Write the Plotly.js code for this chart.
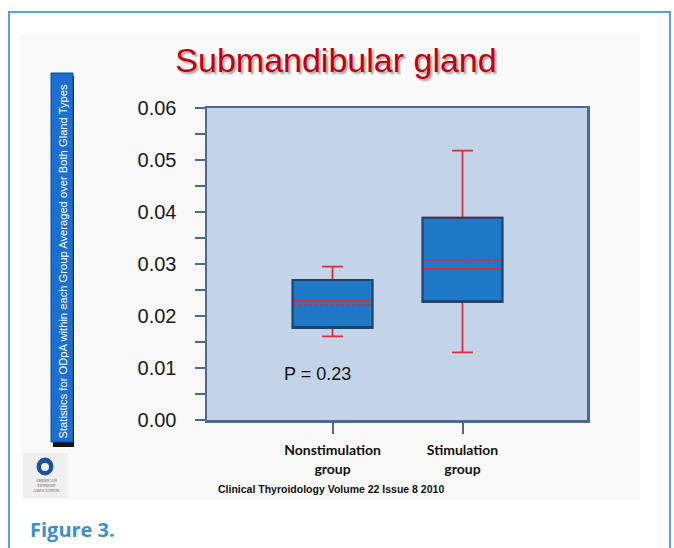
<!DOCTYPE html>
<html>
<head>
<meta charset="utf-8">
<script src="https://cdn.plot.ly/plotly-3.0.1.min.js"></script>
<style>html,body{margin:0;padding:0;background:#fff;}#chart{width:674px;height:548px;}</style>
</head>
<body>
<div id="chart"></div>
<script>
// ---- data ----
const categories = ['Nonstimulation group', 'Stimulation group'];
const tickLabels = ['Nonstimulation<br>group', 'Stimulation<br>group'];
const q1 = [0.0177, 0.0227];
const median = [0.0230, 0.0291];
const q3 = [0.0269, 0.0389];
const mean = [0.0221, 0.0307];
const lowerWhisker = [0.0161, 0.0130];
const upperWhisker = [0.0295, 0.0518];
const yTickVals = [0, 0.01, 0.02, 0.03, 0.04, 0.05, 0.06];
const titleText = 'Submandibular gland';
const yLabelText = 'Statistics for ODpA within each Group Averaged over Both Gland Types';
const pText = 'P = 0.23';
const sourceText = 'Clinical Thyroidology Volume 22 Issue 8 2010';
const figText = 'Figure 3.';

// ---- layout geometry (pixels) ----
const W = 674, H = 548;
const L = 207, R = 587, T = 108, B = 420;
const px = x => (x - L) / (R - L);
const py = y => (B - y) / (B - T);

const axisCol = '#4a6a94';
const red = '#d92a3c';
const plotBg = '#c4d4e8';

const traceMain = {
  type: 'box',
  x: categories,
  q1: q1, median: median, q3: q3, mean: mean,
  lowerfence: lowerWhisker, upperfence: upperWhisker,
  boxmean: true,
  width: 0.615,
  whiskerwidth: 0.26,
  fillcolor: '#1f78c6',
  line: {color: red, width: 1.8},
  hoverinfo: 'skip', showlegend: false
};
const traceOutline = {
  type: 'box',
  x: categories,
  q1: q1, median: q1, q3: q3,
  lowerfence: q1, upperfence: q3,
  width: 0.615,
  whiskerwidth: 0,
  fillcolor: 'rgba(0,0,0,0)',
  line: {color: '#1f426f', width: 2},
  hoverinfo: 'skip', showlegend: false
};

const layout = {
  width: W, height: H,
  margin: {l: L, r: W - R, t: T, b: H - B, pad: 0},
  paper_bgcolor: '#ffffff',
  plot_bgcolor: plotBg,
  boxmode: 'overlay',
  showlegend: false,
  title: {
    text: titleText,
    font: {family: 'Liberation Sans, Arial, sans-serif', size: 34, color: '#c00010',
           shadow: '2px 2px 2px rgba(0,0,0,0.35)'},
    x: 336 / W, xanchor: 'center', xref: 'container',
    y: 1 - 60 / H, yanchor: 'middle', yref: 'container'
  },
  xaxis: {
    type: 'category',
    range: [-0.966, 1.958],
    tickvals: categories, ticktext: tickLabels,
    ticks: 'outside', ticklen: 11, tickwidth: 2, tickcolor: axisCol,
    ticklabelstandoff: 5,
    tickfont: {family: 'Lato, Open Sans, sans-serif', size: 14, color: '#111', weight: 'bold'},
    showline: true, mirror: true, linecolor: axisCol, linewidth: 2.5,
    showgrid: false, zeroline: false, fixedrange: true
  },
  yaxis: {
    range: [0, 0.06],
    tickvals: yTickVals, tickformat: '.2f',
    ticks: 'outside', ticklen: 10, tickwidth: 2, tickcolor: axisCol,
    minor: {dtick: 0.005, ticks: 'outside', ticklen: 10, tickwidth: 2, tickcolor: axisCol, showgrid: false},
    ticklabelstandoff: 14,
    tickfont: {family: 'Liberation Sans, Arial, sans-serif', size: 20, color: '#1a1a1a'},
    showline: true, mirror: true, linecolor: axisCol, linewidth: 2.5,
    showgrid: false, zeroline: false, fixedrange: true
  },
  shapes: [
    // slide background panel
    {type: 'rect', xref: 'paper', yref: 'paper', layer: 'below',
     x0: px(20), x1: px(640), y0: py(500), y1: py(35),
     fillcolor: '#f9f9f9', line: {width: 0}},
    // plot area background (on top of the panel)
    {type: 'rect', xref: 'paper', yref: 'paper', layer: 'below',
     x0: 0, x1: 1, y0: 0, y1: 1,
     fillcolor: plotBg, line: {width: 0}},
    // figure frame (open at bottom)
    {type: 'path', xref: 'paper', yref: 'paper', layer: 'above',
     path: `M ${px(9)} ${py(560)} L ${px(9)} ${py(12)} L ${px(670)} ${py(12)} L ${px(670)} ${py(560)}`,
     line: {color: '#5b9fd6', width: 2}},
    // bar shadow
    {type: 'rect', xref: 'paper', yref: 'paper', layer: 'above',
     x0: px(53), x1: px(74), y0: py(447), y1: py(76),
     fillcolor: '#111111', line: {width: 0}},
    // vertical label bar
    {type: 'rect', xref: 'paper', yref: 'paper', layer: 'above',
     x0: px(51), x1: px(73), y0: py(442), y1: py(73),
     fillcolor: '#1b6fd1', line: {color: '#0f4a94', width: 1}},
    // logo box
    {type: 'rect', xref: 'paper', yref: 'paper', layer: 'above',
     x0: px(23), x1: px(68), y0: py(498), y1: py(453),
     fillcolor: '#efefef', line: {width: 0}},
    {type: 'circle', xref: 'paper', yref: 'paper', layer: 'above',
     x0: px(37), x1: px(53), y0: py(475), y1: py(458),
     fillcolor: '#1d4f9e', line: {color: '#1d4f9e', width: 1}},
    {type: 'circle', xref: 'paper', yref: 'paper', layer: 'above',
     x0: px(41), x1: px(49), y0: py(471), y1: py(463),
     fillcolor: '#efefef', line: {width: 0}}
  ],
  annotations: [
    {text: yLabelText, xref: 'paper', yref: 'paper', x: px(62.5), y: py(262),
     textangle: -90, showarrow: false, xanchor: 'center', yanchor: 'middle',
     font: {family: 'Liberation Sans, Arial, sans-serif', size: 11.2, color: '#ffffff'}},
    {text: pText, xref: 'paper', yref: 'paper', x: px(317), y: py(374),
     showarrow: false, xanchor: 'center', yanchor: 'middle',
     font: {family: 'Liberation Sans, Arial, sans-serif', size: 18, color: '#111'}},
    {text: sourceText, xref: 'paper', yref: 'paper', x: px(331), y: py(489),
     showarrow: false, xanchor: 'center', yanchor: 'middle',
     font: {family: 'Liberation Sans, Arial, sans-serif', size: 10.5, color: '#111', weight: 'bold'}},
    {text: figText, xref: 'paper', yref: 'paper', x: px(28), y: py(529),
     showarrow: false, xanchor: 'left', yanchor: 'middle',
     font: {family: 'Open Sans, sans-serif', size: 20, color: '#3d8fcc', weight: 'bold'}},
    {text: 'AMERICAN<br>THYROID<br>ASSOCIATION', xref: 'paper', yref: 'paper', x: px(45.5), y: py(485),
     showarrow: false, xanchor: 'center', yanchor: 'middle',
     font: {family: 'Liberation Serif, serif', size: 4, color: '#555'}}
  ]
};

Plotly.newPlot('chart', [traceMain, traceOutline], layout, {staticPlot: true, displayModeBar: false});
</script>
</body>
</html>
